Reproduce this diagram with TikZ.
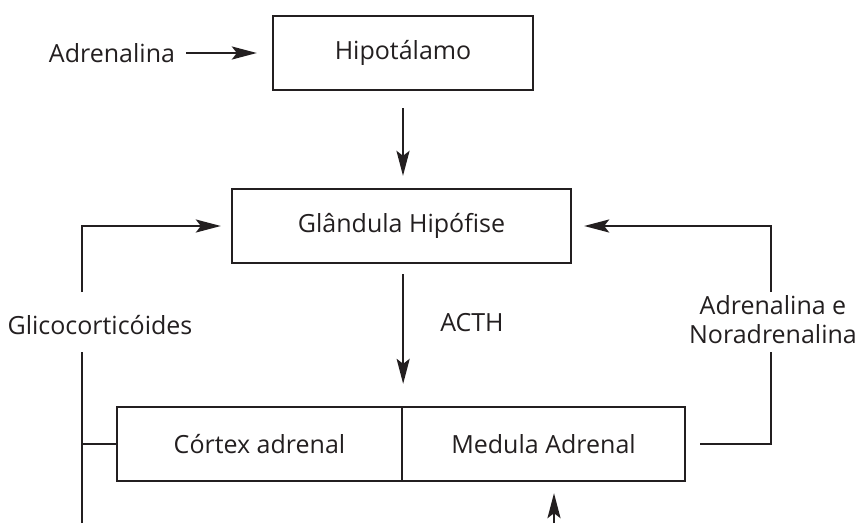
\documentclass[tikz,border=0pt]{standalone}
\usepackage{fontspec}
\setmainfont{Open Sans}
\usetikzlibrary{arrows.meta}
\definecolor{ink}{HTML}{231F20}
\begin{document}
\begin{tikzpicture}[x=1pt,y=-1pt,
  every node/.style={font=\fontsize{25}{29}\selectfont, text=ink},
  box/.style={draw=ink, line width=2.3pt, minimum height=74pt, inner sep=0pt},
  lbl/.style={inner sep=0pt},
  conn/.style={draw=ink, line width=2.3pt},
  arr/.style={conn, -{Stealth[length=25pt,width=13pt,inset=5pt]}}]
\useasboundingbox (0,0) rectangle (856,523);
\node[box, minimum width=260pt] (hyp) at (403,53) {Hipotálamo};
\node[box, minimum width=339pt] (gland) at (401.5,226) {Glândula Hipófise};
\node[box, minimum width=285pt] (cortex) at (259.5,444) {Córtex adrenal};
\node[box, minimum width=283pt] (medula) at (543.5,444) {Medula Adrenal};
\node[lbl] (adr) at (112,53) {Adrenalina};
\node[lbl] (acth) at (472,323) {ACTH};
\node[lbl] (gluc) at (100,325) {Glicocorticóides};
\node[lbl, align=center] (nor) at (773,320) {Adrenalina e\\Noradrenalina};
\coordinate (g1) at (82,292);
\coordinate (g2) at (82,352);
\coordinate (gb) at (82,523);
\coordinate (r1) at (771,352);
\coordinate (r2) at (771,292);
\coordinate (b) at (554,523);
% connectors
\draw[arr, shorten <=11pt, shorten >=15pt] (adr.east) -- (hyp.west);
\draw[arr, shorten <=17pt, shorten >=12pt] (hyp.south) -- (hyp.south |- gland.north);
\draw[arr, shorten <=10pt, shorten >=22pt] (cortex.north east |- gland.south) -- (cortex.north east);
\draw[arr, shorten >=10pt] (g1) |- (gland.west);
\draw[conn] (gb) -- (g2);
\draw[conn] (cortex.west -| gb) -- (cortex.west);
\draw[conn, shorten <=14pt] (medula.east) -| (r1);
\draw[arr, shorten >=12pt] (r2) |- (gland.east);
\draw[arr, shorten >=11pt] (b) -- (b |- medula.south);
\end{tikzpicture}
\end{document}
